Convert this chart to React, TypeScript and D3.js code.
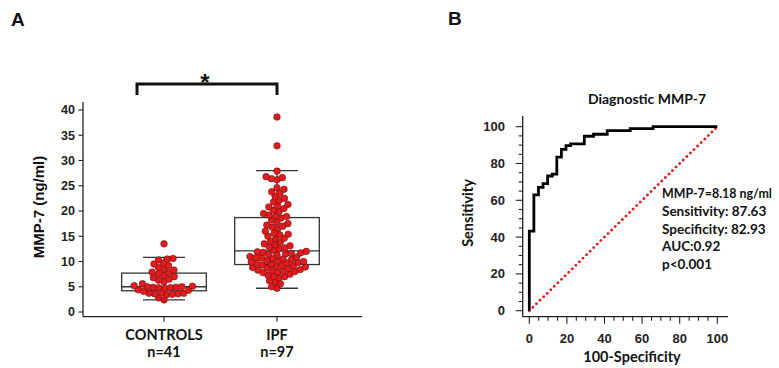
import React from "react";
import * as d3 from "d3";

const categories = ["CONTROLS", "IPF"];
const counts = ["n=41", "n=97"];

const controlsValues = [
  2.4, 2.8,
  3.4, 3.5, 3.6, 3.6, 3.7, 3.7, 3.8,
  4.1, 4.3, 4.4,
  4.7, 4.8, 4.8, 4.9, 4.9, 5.0, 5.0, 5.1, 5.2,
  5.6, 6.0, 6.3, 6.5, 6.8, 7.0, 7.2, 7.6, 7.8, 7.9, 8.3, 8.5, 8.8, 9.2, 9.5, 9.7,
  10.3, 10.5, 10.6,
  13.5,
];

const ipfValues = [
  4.7, 5.0,
  5.6, 6.0, 6.2,
  6.8, 7.0, 7.1, 7.3, 7.5,
  7.8, 7.9, 8.0, 8.1, 8.2, 8.3, 8.4,
  8.6, 8.7, 8.8, 8.9, 9.0, 9.1, 9.2, 9.3,
  9.5, 9.6, 9.7, 9.8, 9.9, 10.0, 10.1, 10.2,
  10.4, 10.5, 10.6, 10.7, 10.8, 10.9, 11.0,
  11.3, 11.4, 11.5, 11.6, 11.7, 11.8, 11.9, 12.0, 12.2,
  12.5, 12.7, 12.9, 13.1, 13.3, 13.5,
  13.8, 14.0, 14.5, 14.6,
  15.0, 15.3, 15.4, 15.6, 16.0,
  16.5, 16.8, 17.0, 17.2, 17.5,
  17.8, 18.2, 18.6, 18.9,
  19.0, 19.2, 19.5, 19.9, 20.2,
  20.5, 20.8, 21.0, 21.3, 21.8,
  22.1, 22.5, 22.9,
  23.5, 23.8, 24.3, 24.6,
  26.2, 26.4, 26.6, 26.8,
  27.9, 32.9, 38.6,
];

// box stats [whiskerLow, q1, median, q3, whiskerHigh]
const boxStats = [
  [2.4, 4.2, 5.0, 7.7, 10.8],
  [4.7, 9.4, 12.1, 18.7, 28.0],
];

const yTicksA = [0, 5, 10, 15, 20, 25, 30, 35, 40];

// ROC step points (100-specificity, sensitivity)
const rocFpr = [0, 0, 2.44, 4.88, 7.32, 9.76, 12.2, 14.63, 17.07, 19.51, 21.95, 29.27, 34.15, 41.46, 53.66, 65.85, 100];
const rocTpr = [0, 43.3, 62.9, 67.0, 69.1, 73.2, 74.2, 83.5, 87.63, 89.7, 90.7, 94.8, 95.9, 97.9, 99.0, 100, 100];

const ticksB = [0, 20, 40, 60, 80, 100];
const minorTicksB = d3.range(0, 101, 5);

const annotation = [
  "MMP-7=8.18 ng/ml",
  "Sensitivity: 87.63",
  "Specificity: 82.93",
  "AUC:0.92",
  "p<0.001",
];

const ARIAL = "'Liberation Sans', Arial, sans-serif";
const LATO = "Lato, 'Open Sans', sans-serif";
const RED = "#e21b1f";

function beeswarm(values: number[], y: (v: number) => number, D: number) {
  const sorted = values.slice().sort((a, b) => a - b);
  const placed: { x: number; y: number; v: number }[] = [];
  for (const v of sorted) {
    const py = y(v);
    const cands = [0];
    for (const p of placed) {
      const dy = Math.abs(p.y - py);
      if (dy < D) {
        const dx = Math.sqrt(D * D - dy * dy);
        cands.push(p.x + dx, p.x - dx);
      }
    }
    cands.sort((a, b) => Math.abs(a) - Math.abs(b) || a - b);
    let chosen = 0;
    for (const c of cands) {
      let ok = true;
      for (const p of placed) {
        const dx = p.x - c;
        const dy = p.y - py;
        if (dx * dx + dy * dy < D * D - 0.01) {
          ok = false;
          break;
        }
      }
      if (ok) {
        chosen = c;
        break;
      }
    }
    placed.push({ x: chosen, y: py, v });
  }
  return placed;
}

export default function App() {
  // Panel A scales
  const yA = d3.scaleLinear().domain([0, 40]).range([312, 110]);
  const xA = d3.scalePoint<string>().domain(categories).range([164, 277]);
  const axisLeftA = 83;
  const axisBottomA = 316.7;
  const groups = [controlsValues, ipfValues];
  const swarms = groups.map((g) => beeswarm(g, yA, 5.7));

  // Panel B scales
  const xB = d3.scaleLinear().domain([0, 100]).range([529.3, 717.3]);
  const yB = d3.scaleLinear().domain([0, 100]).range([310.7, 126.7]);
  const axisLeftB = 522.7;
  const axisBottomB = 316.7;
  const rocPts = rocFpr.map((f, i) => [f, rocTpr[i]] as [number, number]);
  const rocLine = d3
    .line<[number, number]>()
    .x((d) => xB(d[0]))
    .y((d) => yB(d[1]))
    .curve(d3.curveStepAfter)(rocPts);

  return (
    <svg
      width={779}
      height={368}
      style={{ position: "absolute", left: 0, top: 0, background: "#fff" }}
    >
      <rect x={0} y={0} width={779} height={368} fill="#fff" />
      {/* Panel A */}
      <text x={11} y={26} fontFamily={ARIAL} fontWeight="bold" fontSize={19} fill="#111">
        A
      </text>
      {/* bracket */}
      <path
        d={`M${xA("CONTROLS")! - 27},95 V84 H${xA("IPF")} V95`}
        fill="none"
        stroke="#111"
        strokeWidth={3}
      />
      <text x={205} y={91} textAnchor="middle" fontFamily={ARIAL} fontWeight="bold" fontSize={24} fill="#111">
        *
      </text>
      {/* axes */}
      <line x1={axisLeftA} x2={axisLeftA} y1={102} y2={axisBottomA} stroke="#222" strokeWidth={1.3} />
      <line x1={axisLeftA} x2={362} y1={axisBottomA} y2={axisBottomA} stroke="#222" strokeWidth={1.3} />
      {yTicksA.map((t) => (
        <g key={t}>
          <line x1={axisLeftA - 4.5} x2={axisLeftA} y1={yA(t)} y2={yA(t)} stroke="#222" strokeWidth={1.1} />
          <text
            x={75}
            y={yA(t)}
            dy="0.35em"
            textAnchor="end"
            fontFamily={ARIAL}
            fontWeight="bold"
            fontSize={12.5}
            fill="#222"
          >
            {t}
          </text>
        </g>
      ))}
      <text
        transform={`translate(44,207) rotate(-90)`}
        textAnchor="middle"
        fontFamily={ARIAL}
        fontWeight="bold"
        fontSize={15}
        fill="#111"
      >
        MMP-7 (ng/ml)
      </text>
      {categories.map((c, i) => {
        const cx = xA(c)!;
        const [wl, q1, med, q3, wh] = boxStats[i];
        return (
          <g key={c}>
            <line x1={cx} x2={cx} y1={axisBottomA} y2={axisBottomA + 5} stroke="#222" strokeWidth={1.1} />
            <text x={cx} y={335} dy="0.35em" textAnchor="middle" fontFamily={LATO} fontWeight="bold" fontSize={14.5} fill="#111">
              {c}
            </text>
            <text x={cx} y={352} dy="0.35em" textAnchor="middle" fontFamily={LATO} fontWeight="bold" fontSize={14.5} fill="#111">
              {counts[i]}
            </text>
            {/* whiskers */}
            <line x1={cx} x2={cx} y1={yA(wh)} y2={yA(q3)} stroke="#333" strokeWidth={1.3} />
            <line x1={cx} x2={cx} y1={yA(q1)} y2={yA(wl)} stroke="#333" strokeWidth={1.3} />
            <line x1={cx - 21} x2={cx + 21} y1={yA(wh)} y2={yA(wh)} stroke="#333" strokeWidth={1.3} />
            <line x1={cx - 21} x2={cx + 21} y1={yA(wl)} y2={yA(wl)} stroke="#333" strokeWidth={1.3} />
            <rect
              x={cx - 42.3}
              y={yA(q3)}
              width={84.6}
              height={yA(q1) - yA(q3)}
              fill="#fff"
              stroke="#333"
              strokeWidth={1.3}
            />
            <line x1={cx - 42.3} x2={cx + 42.3} y1={yA(med)} y2={yA(med)} stroke="#333" strokeWidth={1.3} />
            <line x1={cx} x2={cx} y1={yA(q3)} y2={yA(q1)} stroke="#333" strokeWidth={1.0} />
            {swarms[i].map((p, j) => (
              <circle key={j} cx={cx + p.x} cy={p.y} r={3.3} fill={RED} stroke="#6a1010" strokeWidth={0.6} />
            ))}
          </g>
        );
      })}

      {/* Panel B */}
      <text x={448} y={25} fontFamily={ARIAL} fontWeight="bold" fontSize={19} fill="#111">
        B
      </text>
      <text x={647} y={99} dy="0.35em" textAnchor="middle" fontFamily={LATO} fontWeight="bold" fontSize={14} fill="#111">
        Diagnostic MMP-7
      </text>
      <line x1={axisLeftB} x2={axisLeftB} y1={116} y2={axisBottomB} stroke="#222" strokeWidth={1.3} />
      <line x1={axisLeftB} x2={728} y1={axisBottomB} y2={axisBottomB} stroke="#222" strokeWidth={1.3} />
      {minorTicksB.map((t) => {
        const major = t % 20 === 0;
        const len = major ? 7 : 4;
        return (
          <g key={t}>
            <line x1={axisLeftB - len} x2={axisLeftB} y1={yB(t)} y2={yB(t)} stroke="#222" strokeWidth={1.1} />
            <line x1={xB(t)} x2={xB(t)} y1={axisBottomB} y2={axisBottomB + len} stroke="#222" strokeWidth={1.1} />
          </g>
        );
      })}
      {ticksB.map((t) => (
        <g key={t}>
          <text x={505} y={yB(t)} dy="0.35em" textAnchor="end" fontFamily={ARIAL} fontWeight="bold" fontSize={13} fill="#222">
            {t}
          </text>
          <text x={xB(t)} y={338} dy="0.35em" textAnchor="middle" fontFamily={ARIAL} fontWeight="bold" fontSize={13} fill="#222">
            {t}
          </text>
        </g>
      ))}
      <text x={632} y={357} dy="0.35em" textAnchor="middle" fontFamily={LATO} fontWeight="bold" fontSize={14.5} fill="#111">
        100-Specificity
      </text>
      <text
        transform={`translate(468,213) rotate(-90)`}
        dy="0.35em"
        textAnchor="middle"
        fontFamily={LATO}
        fontWeight="bold"
        fontSize={14.5}
        fill="#111"
      >
        Sensitivity
      </text>
      <line
        x1={xB(0)}
        y1={yB(0)}
        x2={xB(100)}
        y2={yB(100)}
        stroke={RED}
        strokeWidth={2.8}
        strokeDasharray="0.01 5"
        strokeLinecap="round"
      />
      <path d={rocLine || ""} fill="none" stroke="#000" strokeWidth={2.8} strokeLinejoin="miter" />
      {annotation.map((s, i) => (
        <text
          key={s}
          x={662}
          y={194 + i * 17.5}
          dy="0.35em"
          fontFamily={LATO}
          fontWeight="bold"
          fontSize={i === 0 ? 12.4 : 13.5}
          fill="#111"
        >
          {s}
        </text>
      ))}
    </svg>
  );
}
